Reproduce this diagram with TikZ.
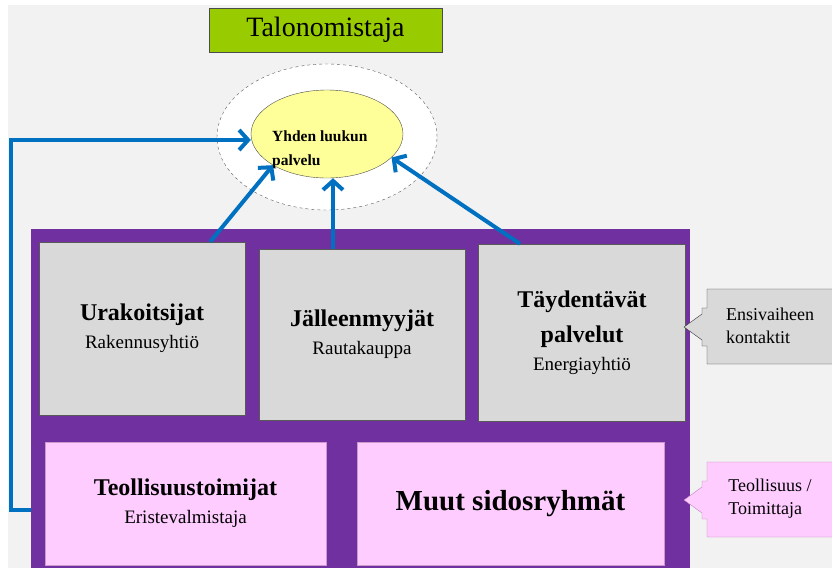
\documentclass[tikz,border=0pt]{standalone}
\usepackage{fontspec}
\setmainfont{Liberation Serif}
\usetikzlibrary{arrows.meta,shapes.geometric}

\definecolor{violetti}{HTML}{7030A0}
\definecolor{sininen}{HTML}{0070C0}
\definecolor{vihrea}{HTML}{99CC00}
\definecolor{harmaa}{HTML}{D9D9D9}
\definecolor{roosa}{HTML}{FFCCFF}
\definecolor{keltainen}{HTML}{FFFF99}
\definecolor{tausta}{HTML}{F2F2F2}

\newcommand{\isoteksti}[1]{{\fontsize{24}{28}\selectfont\bfseries #1}}
\newcommand{\pieniteksti}[1]{{\fontsize{19}{23}\selectfont #1}}

\tikzset{
	harmaalaatikko/.style={draw=gray!70!black, fill=harmaa, inner sep=0pt, align=center},
	roosalaatikko/.style={draw=violet!40, fill=roosa, inner sep=0pt, align=center},
	virta/.style={draw=sininen, line width=4pt, -{Straight Barb[length=9pt,width=20pt]}},
	pieni/.style={font=\fontsize{18}{23}\selectfont}
}

\begin{document}
\begin{tikzpicture}[x=1pt,y=-1pt]
\fill[white] (0,0) rectangle (832,568);
\fill[tausta] (8,5) rectangle (832,568);
\useasboundingbox (0,0) rectangle (832,568);
% otsikko
\node[draw=gray!60!black, fill=vihrea, minimum width=233pt, minimum height=44pt, inner sep=0pt,
	font=\fontsize{28}{30}\selectfont] (talo) at (325.5,30) {Talonomistaja};
\node[ellipse, draw=gray!70!black, dashed, fill=white, minimum width=220pt, minimum height=146pt] (halo) at (327,137) {};
\node[ellipse, draw=gray!60!black, fill=keltainen, minimum width=152pt, minimum height=88pt] (yksi) at (327,134) {};
\node[align=left, anchor=west, inner sep=0pt, font=\fontsize{15.5}{24}\selectfont\bfseries] (yksiteksti) at (272,150)
	{Yhden luukun\\palvelu};
% kehys
\node[fill=violetti, minimum width=659pt, minimum height=339pt, inner sep=0pt] (kehys) at (360.5,398.5) {};
\node[harmaalaatikko, minimum width=206pt, minimum height=173pt] (urak) at (142,328.5)
	{\isoteksti{Urakoitsijat}\\[9pt]\pieniteksti{Rakennusyhtiö}};
\node[harmaalaatikko, minimum width=206pt, minimum height=171pt] (jalleen) at (362,334.5)
	{\isoteksti{Jälleenmyyjät}\\[9pt]\pieniteksti{Rautakauppa}};
\node[harmaalaatikko, minimum width=207pt, minimum height=177pt] (taydent) at (582,332.5)
	{\isoteksti{Täydentävät}\\[12pt]\isoteksti{palvelut}\\[9pt]\pieniteksti{Energiayhtiö}};
\node[roosalaatikko, minimum width=281pt, minimum height=123pt] (teoll) at (185.5,503.5)
	{\isoteksti{Teollisuustoimijat}\\[9pt]\pieniteksti{Eristevalmistaja}};
\node[roosalaatikko, minimum width=307pt, minimum height=123pt, font=\fontsize{29}{32}\selectfont\bfseries] (muut) at (510.5,503.5)
	{Muut sidosryhmät};
% nuolilaatikot
\filldraw[fill=harmaa, draw=gray!40!black] (832,289) -- (707,289) -- (707,308) -- (702,308) -- (702,314) -- (684,327)
	-- (702,340) -- (702,346) -- (707,346) -- (707,364) -- (832,364);
\node[pieni, align=left] (ensi) at (770,326) {Ensivaiheen\\kontaktit};
\filldraw[fill=roosa, draw=violet!50] (832,462) -- (707,462) -- (707,481) -- (702,481) -- (702,487) -- (684,500)
	-- (702,513) -- (702,519) -- (707,519) -- (707,537) -- (832,537);
\node[pieni, align=left] (toim) at (770,499) {Teollisuus /\\Toimittaja};
% nuolet
\coordinate (kulma) at (11,140);
\draw[virta] ([yshift=-6pt]teoll.west -| kehys.west) -| (kulma) -- (kulma -| yksi.west);
\draw[virta] ([xshift=-35pt]urak.north east) -- (yksi.210);
\draw[virta] ([xshift=-29pt]jalleen.north) -- ([xshift=6pt]yksi.south);
\draw[virta] ([xshift=-62pt]taydent.north) -- (yksi.340);
\end{tikzpicture}
\end{document}
